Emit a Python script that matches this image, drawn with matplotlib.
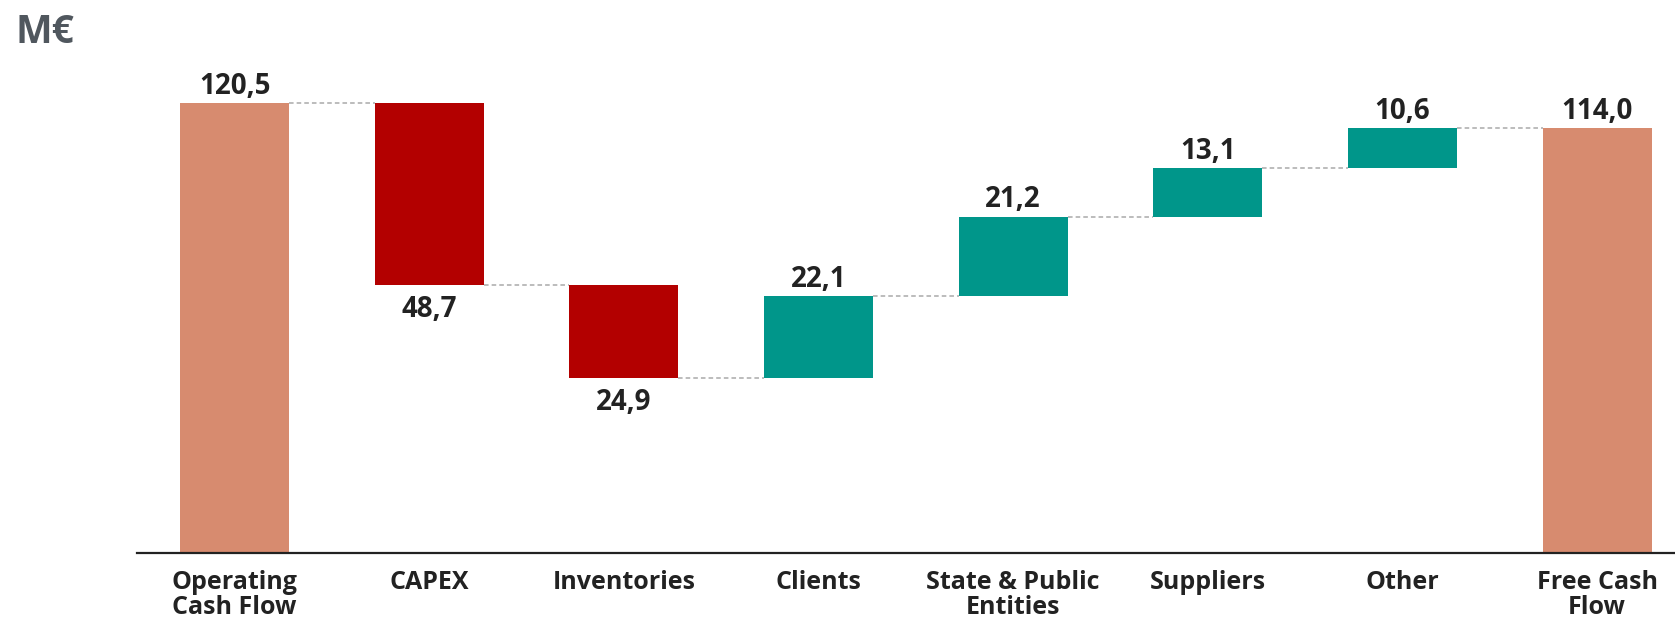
import matplotlib
matplotlib.use('Agg')
import matplotlib.pyplot as plt

categories = ['Operating\nCash Flow', 'CAPEX', 'Inventories', 'Clients',
              'State & Public\nEntities', 'Suppliers', 'Other', 'Free Cash\nFlow']
# signed changes; first and last are totals
values = [120.5, -48.7, -24.9, 22.1, 21.2, 13.1, 10.6, 114.0]
labels = ['120,5', '48,7', '24,9', '22,1', '21,2', '13,1', '10,6', '114,0']
kinds = ['total', 'neg', 'neg', 'pos', 'pos', 'pos', 'pos', 'total']

colors = {'total': '#D78B6F', 'neg': '#B30000', 'pos': '#00968A'}
plt.rcParams['font.family'] = ['Open Sans', 'DejaVu Sans']

def main():
    fig = plt.figure(figsize=(16.75, 6.21), dpi=100)
    ax = fig.add_axes([0.082, 0.1095, 0.918, 0.841])
    width = 0.56

    running = 0.0
    tops = []
    for i, (v, k) in enumerate(zip(values, kinds)):
        if k == 'total':
            bottom, height = 0, v
            running = v
        else:
            bottom = running + min(v, 0)
            height = abs(v)
            running = running + v
        tops.append(running)
        ax.bar(i, height, bottom=bottom, width=width, color=colors[k], zorder=2)
        if k == 'neg':
            ax.annotate(labels[i], (i, bottom), xytext=(0, -23), textcoords='offset points',
                        ha='center', va='baseline', fontsize=20, fontweight='bold', color='#222222')
        else:
            ax.annotate(labels[i], (i, bottom + height), xytext=(0, 6.5), textcoords='offset points',
                        ha='center', va='baseline', fontsize=20, fontweight='bold', color='#222222')

    # connectors between bars
    for i in range(len(values) - 1):
        ax.plot([i + width / 2, i + 1 - width / 2], [tops[i], tops[i]],
                linestyle=(0, (3, 2)), color='#AAAAAA', linewidth=1.1, zorder=1)

    ax.set_xlim(-0.5, 7.4)
    ax.set_ylim(0, 140)
    ax.set_xticks(range(len(categories)))
    ax.set_xticklabels(categories, fontsize=18, fontweight='bold', color='#222222', linespacing=1.0)
    ax.tick_params(axis='x', length=0, pad=12)
    ax.set_yticks([])
    for s in ['top', 'right', 'left']:
        ax.spines[s].set_visible(False)
    ax.spines['bottom'].set_linewidth(1.6)
    ax.spines['bottom'].set_color('#222222')

    fig.text(0.009, 0.93, 'M€', fontsize=28, fontweight='bold', color='#50575E', ha='left', va='baseline')

    fig.savefig('out.png', dpi=100)

if __name__ == "__main__":
    main()
